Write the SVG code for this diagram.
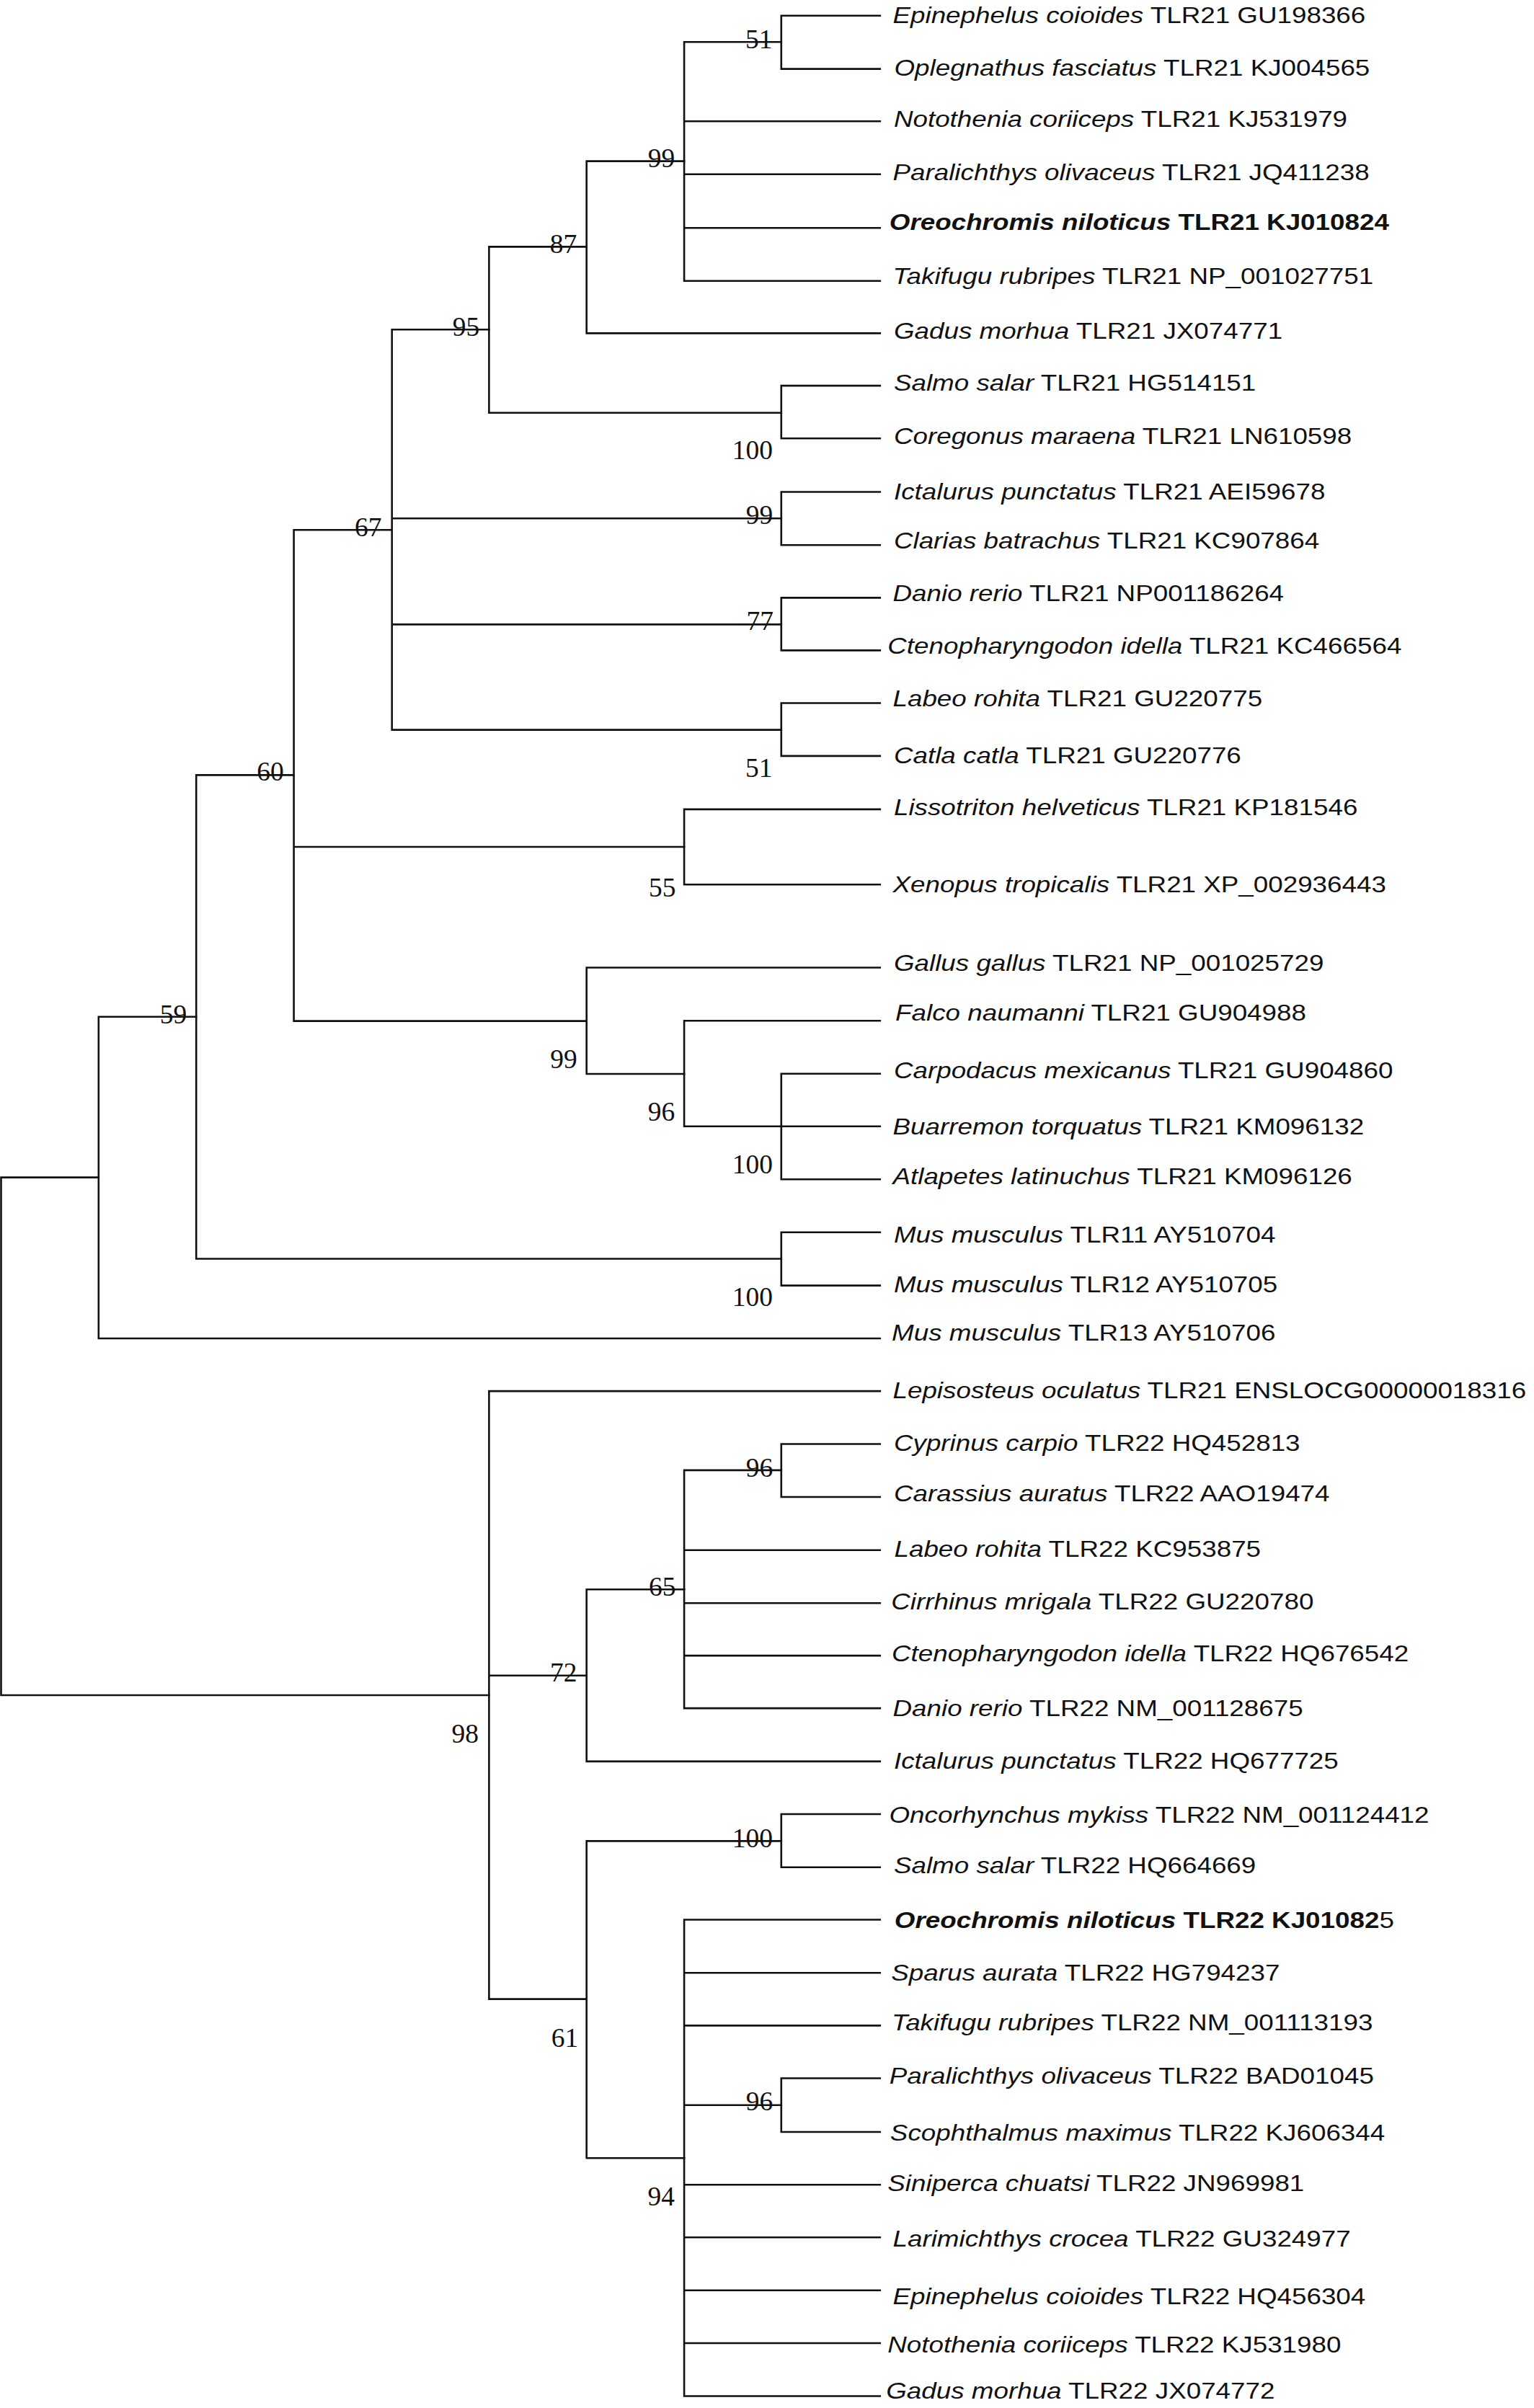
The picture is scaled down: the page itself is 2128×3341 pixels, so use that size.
<svg xmlns="http://www.w3.org/2000/svg" width="2128" height="3341" viewBox="0 0 2128 3341">
<style>
.br{fill:none;stroke:#111;stroke-width:2.6;stroke-linecap:square}
.lb{font-family:"Liberation Sans",Arial,sans-serif;font-size:32px;fill:#111}
.sp{font-style:italic}
.bd{font-weight:bold}
.bs{font-family:"Liberation Serif","Times New Roman",serif;font-size:37.5px;fill:#111;text-anchor:end}
</style>
<rect width="2128" height="3341" fill="#fff"/>
<g id="branches" class="br">
<path d="M1.5 1633.6V2352M1.5 1633.6H136.8M1.5 2352H678.4"/>
<path d="M136.8 1410.8V1857M136.8 1410.8H272.2M136.8 1857H1220.8"/>
<path d="M272.2 1075.4V1746.5M272.2 1075.4H407.6M272.2 1746.5H1083.8"/>
<path d="M1083.8 1709.8V1783.6M1083.8 1709.8H1220.8M1083.8 1783.6H1220.8"/>
<path d="M407.6 735.2V1416.6M407.6 735.2H543.7M407.6 1175H949.1M407.6 1416.6H813.7"/>
<path d="M949.1 1122.9V1227.2M949.1 1122.9H1220.8M949.1 1227.2H1220.8"/>
<path d="M813.7 1342.5V1490M813.7 1342.5H1220.8M813.7 1490H949.1"/>
<path d="M949.1 1416.3V1562.7M949.1 1416.3H1220.8M949.1 1562.7H1083.8"/>
<path d="M1083.8 1489.7V1636.2M1083.8 1489.7H1220.8M1083.8 1562.7H1220.8M1083.8 1636.2H1220.8"/>
<path d="M543.7 457.3V1012.6M543.7 457.3H678.4M543.7 719.2H1083.8M543.7 866.4H1083.8M543.7 1012.6H1083.8"/>
<path d="M1083.8 682.5V756.3M1083.8 682.5H1220.8M1083.8 756.3H1220.8"/>
<path d="M1083.8 829.4V902.4M1083.8 829.4H1220.8M1083.8 902.4H1220.8"/>
<path d="M1083.8 975.5V1048.9M1083.8 975.5H1220.8M1083.8 1048.9H1220.8"/>
<path d="M678.4 342.4V572.7M678.4 342.4H813.7M678.4 572.7H1083.8"/>
<path d="M1083.8 535.1V608.3M1083.8 535.1H1220.8M1083.8 608.3H1220.8"/>
<path d="M813.7 223.6V462.4M813.7 223.6H949.1M813.7 462.4H1220.8"/>
<path d="M949.1 58.2V389.7M949.1 58.2H1083.8M949.1 168.3H1220.8M949.1 241.7H1220.8M949.1 316.2H1220.8M949.1 389.7H1220.8"/>
<path d="M1083.8 21.8V95.6M1083.8 21.8H1220.8M1083.8 95.6H1220.8"/>
<path d="M678.4 1930.1V2773.6M678.4 1930.1H1220.8M678.4 2324.7H813.7M678.4 2773.6H813.7"/>
<path d="M813.7 2205.3V2443.9M813.7 2205.3H949.1M813.7 2443.9H1220.8"/>
<path d="M949.1 2039.9V2370.1M949.1 2039.9H1083.8M949.1 2150.7H1220.8M949.1 2224.2H1220.8M949.1 2297.1H1220.8M949.1 2370.1H1220.8"/>
<path d="M1083.8 2003.5V2077M1083.8 2003.5H1220.8M1083.8 2077H1220.8"/>
<path d="M813.7 2554.4V2994.3M813.7 2554.4H1083.8M813.7 2994.3H949.1"/>
<path d="M1083.8 2517V2590.8M1083.8 2517H1220.8M1083.8 2590.8H1220.8"/>
<path d="M949.1 2663.5V3324.5M949.1 2663.5H1220.8M949.1 2737.3H1220.8M949.1 2810.4H1220.8M949.1 2920.8H1083.8M949.1 3031.2H1220.8M949.1 3104.3H1220.8M949.1 3177.8H1220.8M949.1 3251H1220.8M949.1 3324.5H1220.8"/>
<path d="M1083.8 2883.5V2958M1083.8 2883.5H1220.8M1083.8 2958H1220.8"/>
</g>
<g id="bootstrap">
<g id="bs-51a"><text class="bs" x="1071.6" y="66.5">51</text></g>
<g id="bs-99a"><text class="bs" x="936.2" y="231.5">99</text></g>
<g id="bs-87"><text class="bs" x="800.2" y="350.8">87</text></g>
<g id="bs-95"><text class="bs" x="665.2" y="466">95</text></g>
<g id="bs-100a"><text class="bs" x="1072.1" y="637.1">100</text></g>
<g id="bs-99b"><text class="bs" x="1072.3" y="727.2">99</text></g>
<g id="bs-67"><text class="bs" x="529.4" y="743.6">67</text></g>
<g id="bs-77"><text class="bs" x="1073.1" y="874.4">77</text></g>
<g id="bs-51b"><text class="bs" x="1071.6" y="1078">51</text></g>
<g id="bs-60"><text class="bs" x="393.7" y="1083.4">60</text></g>
<g id="bs-55"><text class="bs" x="937.4" y="1243.6">55</text></g>
<g id="bs-59"><text class="bs" x="259.3" y="1419.9">59</text></g>
<g id="bs-99c"><text class="bs" x="800.8" y="1481.7">99</text></g>
<g id="bs-96a"><text class="bs" x="936.3" y="1555.1">96</text></g>
<g id="bs-100b"><text class="bs" x="1072.1" y="1628.2">100</text></g>
<g id="bs-100c"><text class="bs" x="1072.1" y="1811.6">100</text></g>
<g id="bs-96b"><text class="bs" x="1072.3" y="2049">96</text></g>
<g id="bs-65"><text class="bs" x="937.4" y="2213.6">65</text></g>
<g id="bs-72"><text class="bs" x="800.6" y="2332.7">72</text></g>
<g id="bs-98"><text class="bs" x="664.1" y="2418.1">98</text></g>
<g id="bs-100d"><text class="bs" x="1072.1" y="2562.8">100</text></g>
<g id="bs-61"><text class="bs" x="802.2" y="2839.7">61</text></g>
<g id="bs-96c"><text class="bs" x="1072.3" y="2928.4">96</text></g>
<g id="bs-94"><text class="bs" x="936.1" y="3059.5">94</text></g>
</g>
<g id="leaves" transform="scale(1.15 1)">
<g id="leaf-01"><text class="lb" x="1076.96" y="32"><tspan class="sp">Epinephelus coioides</tspan> TLR21 GU198366</text></g>
<g id="leaf-02"><text class="lb" x="1078.7" y="105.4"><tspan class="sp">Oplegnathus fasciatus</tspan> TLR21 KJ004565</text></g>
<g id="leaf-03"><text class="lb" x="1078.2" y="176.3"><tspan class="sp">Notothenia coriiceps</tspan> TLR21 KJ531979</text></g>
<g id="leaf-04"><text class="lb" x="1076.96" y="250"><tspan class="sp">Paralichthys olivaceus</tspan> TLR21 JQ411238</text></g>
<g id="leaf-05"><text class="lb bd" x="1072.9" y="319.2"><tspan class="sp">Oreochromis niloticus</tspan> TLR21 KJ010824</text></g>
<g id="leaf-06"><text class="lb" x="1076.96" y="393.7"><tspan class="sp">Takifugu rubripes</tspan> TLR21 NP_001027751</text></g>
<g id="leaf-07"><text class="lb" x="1078.2" y="469.7"><tspan class="sp">Gadus morhua</tspan> TLR21 JX074771</text></g>
<g id="leaf-08"><text class="lb" x="1078.2" y="542.4"><tspan class="sp">Salmo salar</tspan> TLR21 HG514151</text></g>
<g id="leaf-09"><text class="lb" x="1078.2" y="616.3"><tspan class="sp">Coregonus maraena</tspan> TLR21 LN610598</text></g>
<g id="leaf-10"><text class="lb" x="1078.2" y="692.7"><tspan class="sp">Ictalurus punctatus</tspan> TLR21 AEI59678</text></g>
<g id="leaf-11"><text class="lb" x="1078.2" y="760.7"><tspan class="sp">Clarias batrachus</tspan> TLR21 KC907864</text></g>
<g id="leaf-12"><text class="lb" x="1076.96" y="834.4"><tspan class="sp">Danio rerio</tspan> TLR21 NP001186264</text></g>
<g id="leaf-13"><text class="lb" x="1070.7" y="907.1"><tspan class="sp">Ctenopharyngodon idella</tspan> TLR21 KC466564</text></g>
<g id="leaf-14"><text class="lb" x="1076.96" y="979.9"><tspan class="sp">Labeo rohita</tspan> TLR21 GU220775</text></g>
<g id="leaf-15"><text class="lb" x="1078.2" y="1058.7"><tspan class="sp">Catla catla</tspan> TLR21 GU220776</text></g>
<g id="leaf-16"><text class="lb" x="1078.2" y="1130.9"><tspan class="sp">Lissotriton helveticus</tspan> TLR21 KP181546</text></g>
<g id="leaf-17"><text class="lb" x="1076.96" y="1238.1"><tspan class="sp">Xenopus tropicalis</tspan> TLR21 XP_002936443</text></g>
<g id="leaf-18"><text class="lb" x="1078.2" y="1347.2"><tspan class="sp">Gallus gallus</tspan> TLR21 NP_001025729</text></g>
<g id="leaf-19"><text class="lb" x="1080.1" y="1416.3"><tspan class="sp">Falco naumanni</tspan> TLR21 GU904988</text></g>
<g id="leaf-20"><text class="lb" x="1078.2" y="1496.2"><tspan class="sp">Carpodacus mexicanus</tspan> TLR21 GU904860</text></g>
<g id="leaf-21"><text class="lb" x="1076.96" y="1574.4"><tspan class="sp">Buarremon torquatus</tspan> TLR21 KM096132</text></g>
<g id="leaf-22"><text class="lb" x="1076.96" y="1642.7"><tspan class="sp">Atlapetes latinuchus</tspan> TLR21 KM096126</text></g>
<g id="leaf-23"><text class="lb" x="1078.2" y="1723.6"><tspan class="sp">Mus musculus</tspan> TLR11 AY510704</text></g>
<g id="leaf-24"><text class="lb" x="1078.2" y="1792.7"><tspan class="sp">Mus musculus</tspan> TLR12 AY510705</text></g>
<g id="leaf-25"><text class="lb" x="1075.7" y="1859.9"><tspan class="sp">Mus musculus</tspan> TLR13 AY510706</text></g>
<g id="leaf-26"><text class="lb" x="1076.96" y="1939.9"><tspan class="sp">Lepisosteus oculatus</tspan> TLR21 ENSLOCG00000018316</text></g>
<g id="leaf-27"><text class="lb" x="1078.2" y="2012.6"><tspan class="sp">Cyprinus carpio</tspan> TLR22 HQ452813</text></g>
<g id="leaf-28"><text class="lb" x="1078.2" y="2083.5"><tspan class="sp">Carassius auratus</tspan> TLR22 AAO19474</text></g>
<g id="leaf-29"><text class="lb" x="1078.7" y="2159.8"><tspan class="sp">Labeo rohita</tspan> TLR22 KC953875</text></g>
<g id="leaf-30"><text class="lb" x="1075" y="2233.3"><tspan class="sp">Cirrhinus mrigala</tspan> TLR22 GU220780</text></g>
<g id="leaf-31"><text class="lb" x="1075.7" y="2304.7"><tspan class="sp">Ctenopharyngodon idella</tspan> TLR22 HQ676542</text></g>
<g id="leaf-32"><text class="lb" x="1076.96" y="2381"><tspan class="sp">Danio rerio</tspan> TLR22 NM_001128675</text></g>
<g id="leaf-33"><text class="lb" x="1078.2" y="2454.5"><tspan class="sp">Ictalurus punctatus</tspan> TLR22 HQ677725</text></g>
<g id="leaf-34"><text class="lb" x="1072.6" y="2529"><tspan class="sp">Oncorhynchus mykiss</tspan> TLR22 NM_001124412</text></g>
<g id="leaf-35"><text class="lb" x="1078.2" y="2599.1"><tspan class="sp">Salmo salar</tspan> TLR22 HQ664669</text></g>
<g id="leaf-36"><text class="lb" x="1079" y="2675.5"><tspan class="bd"><tspan class="sp">Oreochromis niloticus</tspan> TLR22 KJ01082</tspan>5</text></g>
<g id="leaf-37"><text class="lb" x="1075" y="2748.2"><tspan class="sp">Sparus aurata</tspan> TLR22 HG794237</text></g>
<g id="leaf-38"><text class="lb" x="1075.7" y="2817.3"><tspan class="sp">Takifugu rubripes</tspan> TLR22 NM_001113193</text></g>
<g id="leaf-39"><text class="lb" x="1072.9" y="2891.4"><tspan class="sp">Paralichthys olivaceus</tspan> TLR22 BAD01045</text></g>
<g id="leaf-40"><text class="lb" x="1073.8" y="2969.8"><tspan class="sp">Scophthalmus maximus</tspan> TLR22 KJ606344</text></g>
<g id="leaf-41"><text class="lb" x="1070.7" y="3039.8"><tspan class="sp">Siniperca chuatsi</tspan> TLR22 JN969981</text></g>
<g id="leaf-42"><text class="lb" x="1076.96" y="3116.8"><tspan class="sp">Larimichthys crocea</tspan> TLR22 GU324977</text></g>
<g id="leaf-43"><text class="lb" x="1076.96" y="3196.8"><tspan class="sp">Epinephelus coioides</tspan> TLR22 HQ456304</text></g>
<g id="leaf-44"><text class="lb" x="1070.7" y="3264.1"><tspan class="sp">Notothenia coriiceps</tspan> TLR22 KJ531980</text></g>
<g id="leaf-45"><text class="lb" x="1068.9" y="3328"><tspan class="sp">Gadus morhua</tspan> TLR22 JX074772</text></g>
</g>
</svg>
